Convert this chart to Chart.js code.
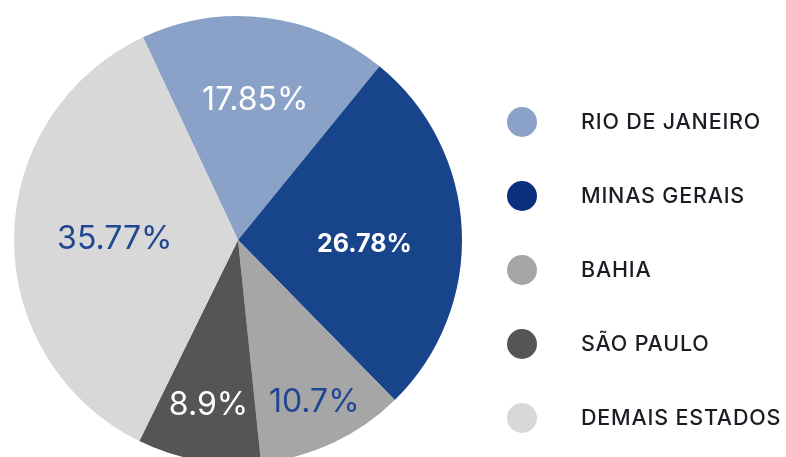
<!DOCTYPE html>
<html>
<head>
<meta charset="utf-8">
<script src="https://cdn.jsdelivr.net/npm/chart.js@4/dist/chart.umd.min.js"></script>
<style>
  html, body { margin: 0; padding: 0; background: #fff; overflow: hidden; }
  #wrap { position: relative; width: 786px; height: 480px; }
</style>
</head>
<body>
<div id="wrap"><canvas id="chart"></canvas></div>
<script>
const states = ["RIO DE JANEIRO", "MINAS GERAIS", "BAHIA", "SÃO PAULO", "DEMAIS ESTADOS"];
const shares = [17.85, 26.78, 10.7, 8.9, 35.77];
const shareLabels = ["17.85%", "26.78%", "10.7%", "8.9%", "35.77%"];
const sliceColors = ["#8aa2c7", "#17448b", "#a6a6a6", "#555555", "#d8d8d8"];
const legendColors = ["#8aa2c7", "#0b2f7c", "#a6a6a6", "#555555", "#d8d8d8"];

// where each percentage sits (fraction of the radius, small vertical nudge) and its style
const labelStyle = [
  { r: 0.63, dy: 0, color: "#ffffff", weight: "400", size: 32 },
  { r: 0.565, dy: 10, color: "#ffffff", weight: "700", size: 25 },
  { r: 0.80, dy: 0, color: "#1f4690", weight: "400", size: 32 },
  { r: 0.75, dy: 0, color: "#ffffff", weight: "400", size: 32 },
  { r: 0.55, dy: 0, color: "#1f4690", weight: "400", size: 32 },
];

const sliceLabels = {
  id: "sliceLabels",
  afterDatasetsDraw(chart) {
    const ctx = chart.ctx;
    const meta = chart.getDatasetMeta(0);
    ctx.save();
    ctx.textAlign = "center";
    ctx.textBaseline = "middle";
    meta.data.forEach((arc, i) => {
      const p = arc.getProps(["x", "y", "startAngle", "endAngle", "outerRadius"], true);
      const mid = (p.startAngle + p.endAngle) / 2;
      const st = labelStyle[i];
      const r = p.outerRadius * st.r;
      ctx.fillStyle = st.color;
      ctx.font = st.weight + " " + st.size + "px Inter, 'Noto Sans', sans-serif";
      ctx.fillText(shareLabels[i], p.x + Math.cos(mid) * r, p.y + Math.sin(mid) * r + st.dy);
    });
    ctx.restore();
  },
};

const sideLegend = {
  id: "sideLegend",
  afterDraw(chart, args, opts) {
    const ctx = chart.ctx;
    ctx.save();
    ctx.textBaseline = "middle";
    ctx.textAlign = "left";
    ctx.font = "500 21.5px Inter, 'Noto Sans', sans-serif";
    ctx.letterSpacing = "0.8px";
    chart.data.labels.forEach((lab, i) => {
      const y = opts.top + i * opts.step;
      ctx.fillStyle = legendColors[i];
      ctx.beginPath();
      ctx.arc(opts.dotX, y, opts.dotR, 0, Math.PI * 2);
      ctx.fill();
      ctx.fillStyle = "#1c1c24";
      ctx.fillText(lab, opts.textX, y + 1);
    });
    ctx.restore();
  },
};

new Chart(document.getElementById("chart"), {
  type: "pie",
  data: {
    labels: states,
    datasets: [
      {
        data: shares,
        backgroundColor: sliceColors,
        borderWidth: 0,
      },
    ],
  },
  options: {
    responsive: true,
    maintainAspectRatio: false,
    animation: false,
    rotation: -25.1,
    layout: { padding: { left: 14, right: 324, top: 16, bottom: 16 } },
    plugins: {
      legend: { display: false },
      tooltip: { enabled: false },
      sideLegend: { dotX: 522, dotR: 15, textX: 581, top: 122, step: 74 },
    },
  },
  plugins: [sliceLabels, sideLegend],
});
</script>
</body>
</html>
